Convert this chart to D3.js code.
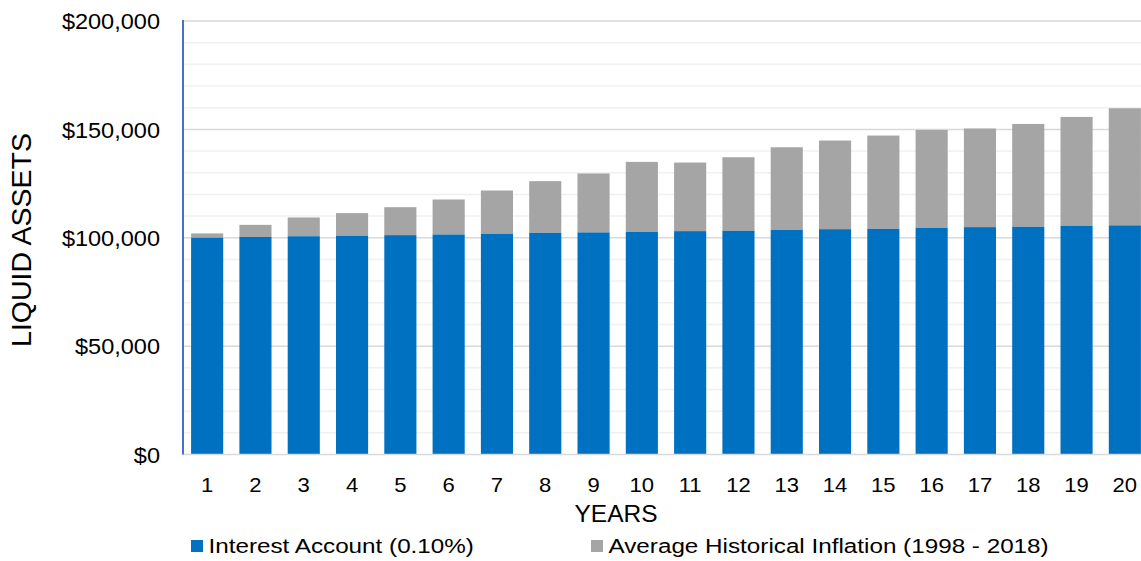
<!DOCTYPE html>
<html>
<head>
<meta charset="utf-8">
<script src="https://cdn.jsdelivr.net/npm/d3@7"></script>
<style>
  html, body { margin: 0; padding: 0; background: #fff; }
  svg { display: block; font-family: "Liberation Sans", Arial, sans-serif; }
</style>
</head>
<body>
<svg id="chart" width="1141" height="561"></svg>
<script>
// Year labels on the x axis
const years = ["1","2","3","4","5","6","7","8","9","10","11","12","13","14","15","16","17","18","19","20"];
// Balance of the interest account at 0.10%
const interestAccount = [100000,100400,100700,100900,101200,101500,101800,102250,102450,102700,
                         103050,103200,103650,103950,104100,104550,104900,105050,105500,105700];
// Value required to keep pace with average historical inflation (1998 - 2018)
const historicalInflation = [102000,105950,109350,111350,114100,117650,121800,126100,129650,135000,
                             134700,137150,141750,144850,147150,149750,150400,152500,155750,159750];
const yTicks = [0, 50000, 100000, 150000, 200000];
const seriesNames = ["Interest Account (0.10%)", "Average Historical Inflation (1998 - 2018)"];
const seriesColors = ["#0070C0", "#A5A5A5"];

const svg = d3.select("#chart");
const plotLeft = 183, plotRight = 1149, plotTop = 21, plotBottom = 454.5;

const x = d3.scaleBand().domain(years).range([plotLeft, plotRight]).paddingInner(0.335).paddingOuter(0.1675);
const y = d3.scaleLinear().domain([0, 200000]).range([plotBottom, plotTop]);

// minor gridlines every 10,000
svg.append("g").selectAll("line")
  .data(d3.range(10000, 200001, 10000).filter(v => v % 50000 !== 0))
  .join("line")
  .attr("x1", plotLeft).attr("x2", 1141)
  .attr("y1", d => y(d)).attr("y2", d => y(d))
  .attr("stroke", "#F0F0F0").attr("stroke-width", 1.5);

// major gridlines
svg.append("g").selectAll("line")
  .data(yTicks.filter(v => v > 0))
  .join("line")
  .attr("x1", plotLeft).attr("x2", 1141)
  .attr("y1", d => y(d)).attr("y2", d => y(d))
  .attr("stroke", "#D9D9D9").attr("stroke-width", 1.5);

// inflation segment stacked above the interest account
svg.append("g").selectAll("rect")
  .data(years)
  .join("rect")
  .attr("x", d => x(d))
  .attr("width", x.bandwidth())
  .attr("y", (d, i) => y(historicalInflation[i]))
  .attr("height", (d, i) => y(interestAccount[i]) - y(historicalInflation[i]))
  .attr("fill", seriesColors[1]);

svg.append("g").selectAll("rect")
  .data(years)
  .join("rect")
  .attr("x", d => x(d))
  .attr("width", x.bandwidth())
  .attr("y", (d, i) => y(interestAccount[i]))
  .attr("height", (d, i) => y(0) - y(interestAccount[i]))
  .attr("fill", seriesColors[0]);

// baseline
svg.append("line")
  .attr("x1", plotLeft).attr("x2", 1141)
  .attr("y1", y(0)).attr("y2", y(0))
  .attr("stroke", "#D9D9D9").attr("stroke-width", 1.5);

// x axis labels
const xAxis = svg.append("g")
  .attr("transform", `translate(0,${y(0)})`)
  .call(d3.axisBottom(x).tickSize(0).tickPadding(0));
xAxis.select(".domain").remove();
xAxis.selectAll("text")
  .attr("y", 0).attr("dy", 0)
  .attr("transform", "translate(0,37) scale(1.05,1)")
  .attr("font-size", 21).attr("fill", "#000")
  .attr("font-family", "Liberation Sans, Arial, sans-serif");

// y axis labels (slightly wide lettering)
const fmt = d3.format(",");
const yAxis = svg.append("g")
  .attr("transform", `translate(${plotLeft},0)`)
  .call(d3.axisLeft(y).tickValues(yTicks).tickFormat(d => "$" + fmt(d)).tickSize(0).tickPadding(0));
yAxis.select(".domain").remove();
yAxis.selectAll("text")
  .attr("x", 0).attr("dy", "0.35em")
  .attr("transform", "translate(-23,0) scale(1.07,1)")
  .attr("font-size", 22).attr("fill", "#000")
  .attr("font-family", "Liberation Sans, Arial, sans-serif");

// vertical axis line
svg.append("line")
  .attr("x1", plotLeft).attr("x2", plotLeft)
  .attr("y1", plotTop - 1).attr("y2", y(0))
  .attr("stroke", "#4472C4").attr("stroke-width", 2);

// axis titles
svg.append("text")
  .attr("transform", `translate(31,240) rotate(-90)`)
  .attr("text-anchor", "middle")
  .attr("font-size", 28.5).attr("fill", "#000")
  .text("LIQUID ASSETS");

svg.append("text")
  .attr("transform", "translate(616,522) scale(1.02,1)")
  .attr("text-anchor", "middle")
  .attr("font-size", 24).attr("fill", "#000")
  .text("YEARS");

// legend
const legendX = [191, 591];
const legend = svg.append("g").selectAll("g")
  .data(seriesNames)
  .join("g")
  .attr("transform", (d, i) => `translate(${legendX[i]},540)`);
legend.append("rect")
  .attr("width", 12).attr("height", 12)
  .attr("fill", (d, i) => seriesColors[i]);
legend.append("text")
  .attr("transform", "translate(17.5,13) scale(1.155,1)")
  .attr("font-size", 21).attr("fill", "#000")
  .text(d => d);
</script>
</body>
</html>
